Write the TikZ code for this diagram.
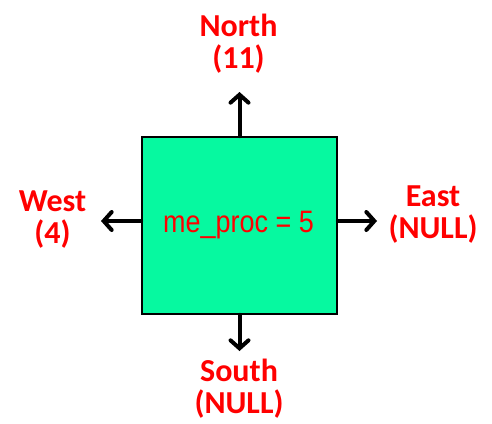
\documentclass[tikz,border=0pt]{standalone}
\usepackage{fontspec}
\setmainfont{Carlito}
\newfontfamily\procFont[FakeStretch=0.87]{Liberation Sans}
\usetikzlibrary{positioning,arrows.meta}
\tikzstyle{canvas} = [x = 1pt, y = -1pt]
\definecolor{procColor}{RGB}{6,249,160}
\definecolor{labelColor}{RGB}{255,0,0}
\tikzstyle{procBox} = [draw=black, fill=procColor, line width=1.6pt, minimum width=195pt, minimum height=177pt, inner sep=0pt]
\tikzstyle{procText} = [text=labelColor, font=\procFont\fontsize{31}{32}\selectfont, anchor=base, inner sep=0pt]
\tikzstyle{dirText} = [text=labelColor, font=\fontsize{32}{32}\selectfont\bfseries, align=center, anchor=base, inner sep=0pt]
\tikzstyle{dirArrow} = [line width=4pt, line cap=round, -{Straight Barb[length=8pt, width=18pt, line cap=round]}]

\begin{document}
\begin{tikzpicture}[canvas]
  \useasboundingbox (0,0) rectangle (492,423);

  % the process and its rank
  \node [procBox] (proc) at (239.5,225.5) {};
  \node [procText] (rank) at (238.5,232) {me\_proc = 5};

  % neighbours (base = last line)
  \node [dirText] (north) at (238.5,68) {North\\(11)};
  \node [dirText] (west) at (52.5,243) {West\\(4)};
  \node [dirText] (east) at (433,238) {East\\(NULL)};
  \node [dirText] (south) at (239,413) {South\\(NULL)};

  \coordinate (northTip) at (239.5,92);
  \coordinate (westTip) at (101,221);
  \coordinate (eastTip) at (377,221);
  \coordinate (southTip) at (239.5,351);

  \draw [dirArrow] (proc.north) -- (northTip);
  \draw [dirArrow] (proc.south) -- (southTip);
  \draw [dirArrow] (proc.west |- westTip) -- (westTip);
  \draw [dirArrow] (proc.east |- eastTip) -- (eastTip);
\end{tikzpicture}
\end{document}
